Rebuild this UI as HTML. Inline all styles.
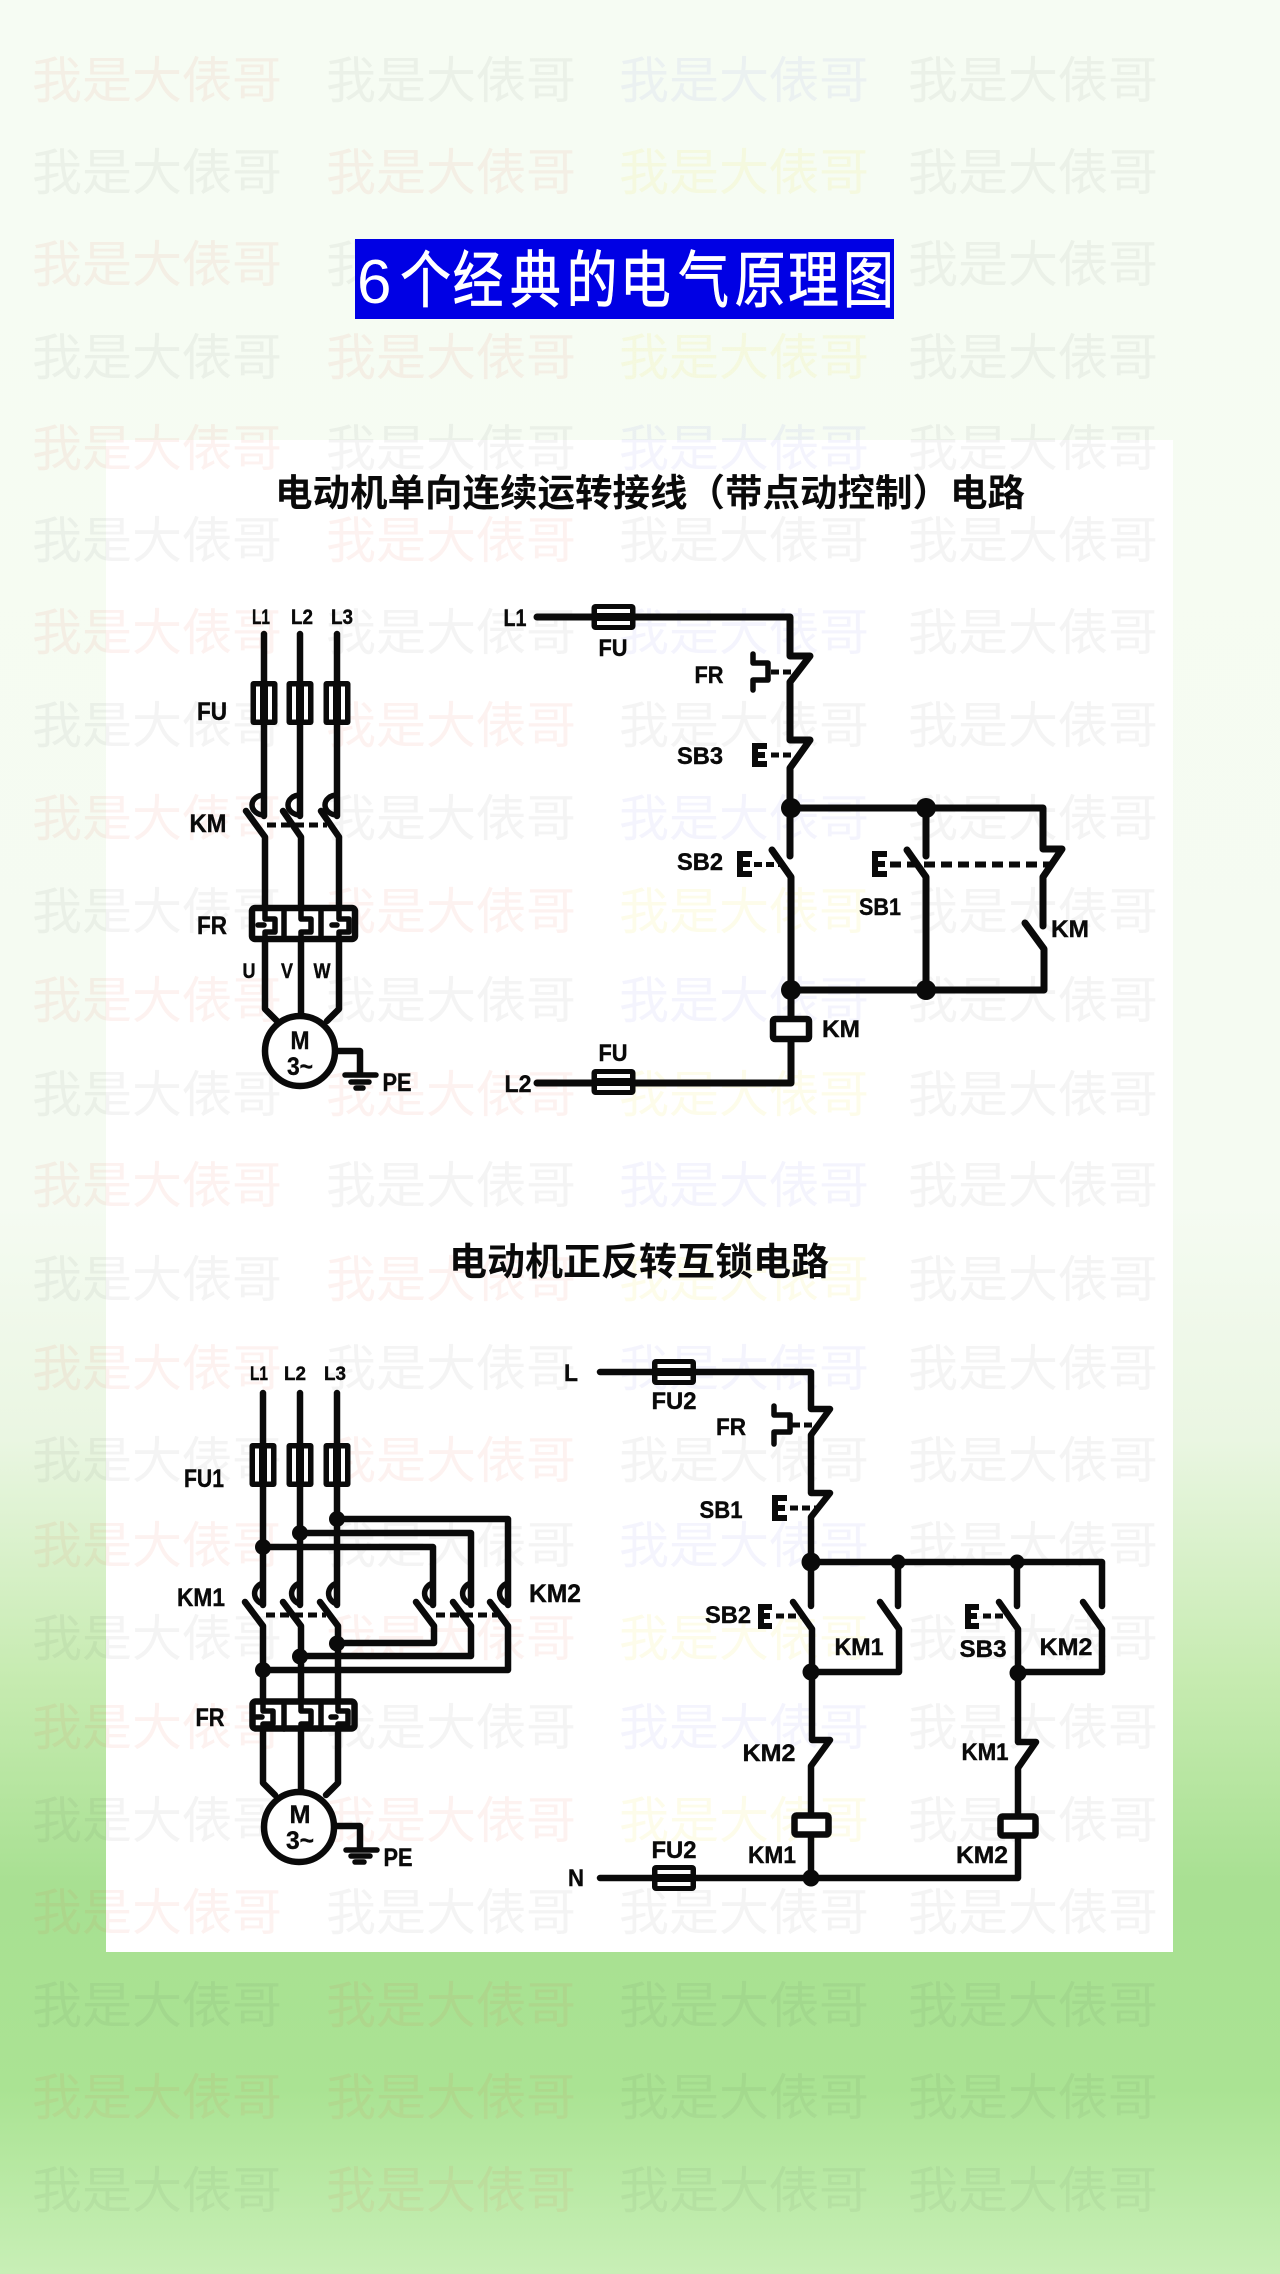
<!DOCTYPE html>
<html lang="zh"><head><meta charset="utf-8"><title>6个经典的电气原理图</title>
<style>
html,body{margin:0;padding:0;background:#fff}
svg{display:block}
.w{font:400 50px "Liberation Sans","Noto Sans CJK SC",sans-serif}
.r{fill:rgba(230,90,70,.08)}.g{fill:rgba(60,60,60,.055)}.b{fill:rgba(60,60,220,.06)}.y{fill:rgba(240,230,60,.11)}
.l{font-family:"Liberation Sans",sans-serif;font-weight:700;fill:#0a0a0a;stroke:#0a0a0a;stroke-width:.4;text-anchor:middle}
.t{font-family:"Liberation Sans","Noto Sans CJK SC",sans-serif;font-weight:700;fill:#0a0a0a;text-anchor:middle}
.p{fill:none;stroke:#0a0a0a;stroke-linecap:round;stroke-linejoin:round}
</style></head><body>
<svg xmlns="http://www.w3.org/2000/svg" width="1280" height="2274" viewBox="0 0 1280 2274">
<defs>
<linearGradient id="bg" x1="0" y1="0" x2="0" y2="1">
<stop offset="0" stop-color="#f6fcf3"/><stop offset=".53" stop-color="#f5fbf2"/><stop offset=".633" stop-color="#eaf6e2"/><stop offset=".739" stop-color="#c6ebb0"/><stop offset=".829" stop-color="#a8e092"/><stop offset=".919" stop-color="#aae393"/><stop offset="1" stop-color="#c8efb6"/>
</linearGradient>
<g id="fv"><rect x="-13.500" y="-22" width="27" height="44" rx="3" fill="#0a0a0a"/><rect x="-8" y="-16.500" width="4" height="33" fill="#fff"/><rect x="4" y="-16.500" width="4" height="33" fill="#fff"/></g>
<g id="fh"><rect x="-22" y="-13" width="44" height="26" rx="4" fill="#0a0a0a"/><rect x="-16.500" y="-8" width="33" height="4" fill="#fff"/><rect x="-16.500" y="4" width="33" height="4" fill="#fff"/></g>
</defs>
<rect width="1280" height="2274" fill="url(#bg)"/>
<rect x="106" y="440" width="1067" height="1512" fill="#fff"/>
<g class="w">
<text x="32" y="98" class="r">我是大俵哥</text><text x="326" y="98" class="g">我是大俵哥</text><text x="619" y="98" class="b">我是大俵哥</text><text x="908" y="98" class="g">我是大俵哥</text>
<text x="32" y="190" class="g">我是大俵哥</text><text x="326" y="190" class="r">我是大俵哥</text><text x="619" y="190" class="y">我是大俵哥</text><text x="908" y="190" class="g">我是大俵哥</text>
<text x="32" y="282" class="r">我是大俵哥</text><text x="326" y="282" class="g">我是大俵哥</text><text x="908" y="282" class="g">我是大俵哥</text>
<text x="32" y="375" class="g">我是大俵哥</text><text x="326" y="375" class="r">我是大俵哥</text><text x="619" y="375" class="y">我是大俵哥</text><text x="908" y="375" class="g">我是大俵哥</text>
<text x="32" y="466" class="r">我是大俵哥</text><text x="326" y="466" class="g">我是大俵哥</text><text x="619" y="466" class="b">我是大俵哥</text><text x="908" y="466" class="g">我是大俵哥</text>
<text x="32" y="558" class="g">我是大俵哥</text><text x="326" y="558" class="r">我是大俵哥</text><text x="619" y="558" class="g">我是大俵哥</text><text x="908" y="558" class="g">我是大俵哥</text>
<text x="32" y="650" class="r">我是大俵哥</text><text x="326" y="650" class="g">我是大俵哥</text><text x="619" y="650" class="b">我是大俵哥</text><text x="908" y="650" class="g">我是大俵哥</text>
<text x="32" y="743" class="g">我是大俵哥</text><text x="326" y="743" class="r">我是大俵哥</text><text x="619" y="743" class="g">我是大俵哥</text><text x="908" y="743" class="g">我是大俵哥</text>
<text x="32" y="836" class="r">我是大俵哥</text><text x="326" y="836" class="g">我是大俵哥</text><text x="619" y="836" class="b">我是大俵哥</text><text x="908" y="836" class="g">我是大俵哥</text>
<text x="32" y="929" class="g">我是大俵哥</text><text x="326" y="929" class="r">我是大俵哥</text><text x="619" y="929" class="y">我是大俵哥</text><text x="908" y="929" class="g">我是大俵哥</text>
<text x="32" y="1018" class="r">我是大俵哥</text><text x="326" y="1018" class="g">我是大俵哥</text><text x="619" y="1018" class="b">我是大俵哥</text><text x="908" y="1018" class="g">我是大俵哥</text>
<text x="32" y="1112" class="g">我是大俵哥</text><text x="326" y="1112" class="r">我是大俵哥</text><text x="619" y="1112" class="y">我是大俵哥</text><text x="908" y="1112" class="g">我是大俵哥</text>
<text x="32" y="1203" class="r">我是大俵哥</text><text x="326" y="1203" class="g">我是大俵哥</text><text x="619" y="1203" class="b">我是大俵哥</text><text x="908" y="1203" class="g">我是大俵哥</text>
<text x="32" y="1297" class="g">我是大俵哥</text><text x="326" y="1297" class="r">我是大俵哥</text><text x="619" y="1297" class="y">我是大俵哥</text><text x="908" y="1297" class="g">我是大俵哥</text>
<text x="32" y="1386" class="r">我是大俵哥</text><text x="326" y="1386" class="g">我是大俵哥</text><text x="619" y="1386" class="b">我是大俵哥</text><text x="908" y="1386" class="g">我是大俵哥</text>
<text x="32" y="1478" class="g">我是大俵哥</text><text x="326" y="1478" class="r">我是大俵哥</text><text x="619" y="1478" class="g">我是大俵哥</text><text x="908" y="1478" class="g">我是大俵哥</text>
<text x="32" y="1563" class="r">我是大俵哥</text><text x="326" y="1563" class="g">我是大俵哥</text><text x="619" y="1563" class="b">我是大俵哥</text><text x="908" y="1563" class="g">我是大俵哥</text>
<text x="32" y="1656" class="g">我是大俵哥</text><text x="326" y="1656" class="r">我是大俵哥</text><text x="619" y="1656" class="y">我是大俵哥</text><text x="908" y="1656" class="g">我是大俵哥</text>
<text x="32" y="1745" class="r">我是大俵哥</text><text x="326" y="1745" class="g">我是大俵哥</text><text x="619" y="1745" class="b">我是大俵哥</text><text x="908" y="1745" class="g">我是大俵哥</text>
<text x="32" y="1838" class="g">我是大俵哥</text><text x="326" y="1838" class="r">我是大俵哥</text><text x="619" y="1838" class="y">我是大俵哥</text><text x="908" y="1838" class="g">我是大俵哥</text>
<text x="32" y="1930" class="r">我是大俵哥</text><text x="326" y="1930" class="g">我是大俵哥</text><text x="619" y="1930" class="g">我是大俵哥</text><text x="908" y="1930" class="g">我是大俵哥</text>
<text x="32" y="2023" class="g">我是大俵哥</text><text x="326" y="2023" class="r">我是大俵哥</text><text x="619" y="2023" class="g">我是大俵哥</text><text x="908" y="2023" class="g">我是大俵哥</text>
<text x="32" y="2115" class="r">我是大俵哥</text><text x="326" y="2115" class="r">我是大俵哥</text><text x="619" y="2115" class="g">我是大俵哥</text><text x="908" y="2115" class="g">我是大俵哥</text>
<text x="32" y="2208" class="g">我是大俵哥</text><text x="326" y="2208" class="r">我是大俵哥</text><text x="619" y="2208" class="g">我是大俵哥</text><text x="908" y="2208" class="g">我是大俵哥</text>
</g>

<!-- title -->
<rect x="355" y="239" width="539" height="80" fill="#0000e4"/>
<text x="357" y="303" font-family="'Liberation Sans',sans-serif" font-size="62" fill="#fff">6</text>
<g transform="scale(.82,1)"><text x="488 552 622 691 756 827 896 961 1028" y="302" font-family="'Liberation Sans','Noto Sans CJK SC',sans-serif" font-size="62" fill="#fff" stroke="#fff" stroke-width=".8">个经典的电气原理图</text></g>
<text class="t" x="650" y="506" font-size="37.5" textLength="750" lengthAdjust="spacingAndGlyphs">电动机单向连续运转接线（带点动控制）电路</text>
<text class="t" x="639" y="1275" font-size="38" textLength="380" lengthAdjust="spacingAndGlyphs">电动机正反转互锁电路</text>

<!-- S1 power circuit -->
<g class="p" stroke-width="6.500">
<path d="M264 634V816M300 634V816M337 634V816"/>
<path d="M246 811L265 837V1009L277 1021M283 811L301 837V1015M321 811L339 837V1009L327 1021"/>
<path stroke-width="5.500" d="M264 795A12 10 0 0 0 264 815M300 795A12 10 0 0 0 300 815M337 795A12 10 0 0 0 337 815"/>
<path stroke-width="5" stroke-linecap="butt" stroke-dasharray="9 5" d="M267 825H327"/>
<rect x="252" y="908" width="103" height="31" rx="3" stroke-width="6.500" fill="#fff"/>
<path stroke-width="5.500" d="M284 908V939M321 908V939"/>
<path stroke-width="5.500" d="M265 908V919H275V932H265V939M258 925H264M301 908V919H311V932H301V939M339 908V919H349V932H339V939M332 925H337"/>
<circle cx="300" cy="1051" r="35" fill="#fff"/>
<path d="M336 1051H360V1074"/>
<path stroke-width="5.500" d="M345 1075H376M351 1082H369M356 1088H363"/>
</g>
<use href="#fv" x="264" y="703"/><use href="#fv" x="300" y="703"/><use href="#fv" x="337" y="703"/>
<g font-size="21">
<text class="l" x="261" y="624" textLength="18" lengthAdjust="spacingAndGlyphs">L1</text>
<text class="l" x="302" y="624" textLength="22" lengthAdjust="spacingAndGlyphs">L2</text>
<text class="l" x="342" y="624" textLength="22" lengthAdjust="spacingAndGlyphs">L3</text>
<text class="l" x="249" y="978" textLength="13" lengthAdjust="spacingAndGlyphs">U</text>
<text class="l" x="287" y="978" textLength="12" lengthAdjust="spacingAndGlyphs">V</text>
<text class="l" x="322" y="978" textLength="17" lengthAdjust="spacingAndGlyphs">W</text>
</g>
<g font-size="25">
<text class="l" x="212" y="720" textLength="30" lengthAdjust="spacingAndGlyphs">FU</text>
<text class="l" x="208" y="832" textLength="37" lengthAdjust="spacingAndGlyphs">KM</text>
<text class="l" x="212" y="934" textLength="30" lengthAdjust="spacingAndGlyphs">FR</text>
<text class="l" x="300" y="1049" textLength="19" lengthAdjust="spacingAndGlyphs">M</text>
<text class="l" x="300" y="1075" textLength="26" lengthAdjust="spacingAndGlyphs">3~</text>
<text class="l" x="397" y="1091" textLength="29" lengthAdjust="spacingAndGlyphs">PE</text>
</g>

<!-- S1 control circuit -->
<g class="p" stroke-width="7">
<path d="M537 617H790V656H810L790 682V740H810L790 768V856"/>
<path d="M791 808H1043V849H1062L1043 877V926"/>
<path d="M926 808V856"/>
<path d="M772 850L791 877V1019"/>
<path d="M907 850L926 877V990"/>
<path d="M1025 923L1044 949V990H791"/>
<path d="M791 1040V1083H537"/>
<rect x="773" y="1019" width="36" height="20" rx="2" stroke-width="6.500" fill="#fff"/>
<path stroke-width="5.500" d="M753 654V663H768V680H753V690"/>
<path stroke-width="5" stroke-linecap="butt" stroke-dasharray="8 4" d="M771 672H794M771 755H794M754 864.5H782"/>
<path stroke-width="6" stroke-linecap="butt" stroke-dasharray="11 6" d="M890 864.5H1050"/>
<path stroke-width="6" stroke-linecap="butt" stroke-linejoin="miter" d="M767 746H755V764H767M755 755H765M752 854H740V874H752M740 864H750M887 854H875V874H887M875 864H885"/>
</g>
<g fill="#0a0a0a"><circle cx="791" cy="808" r="10"/><circle cx="926" cy="808" r="10"/><circle cx="791" cy="990" r="10"/><circle cx="926" cy="990" r="10"/></g>
<use href="#fh" x="613.5" y="617"/><use href="#fh" x="613.5" y="1082"/>
<g font-size="24">
<text class="l" x="515" y="626" textLength="23" lengthAdjust="spacingAndGlyphs">L1</text>
<text class="l" x="613" y="656" textLength="29" lengthAdjust="spacingAndGlyphs">FU</text>
<text class="l" x="709" y="683" textLength="29" lengthAdjust="spacingAndGlyphs">FR</text>
<text class="l" x="700" y="764" textLength="46" lengthAdjust="spacingAndGlyphs">SB3</text>
<text class="l" x="700" y="870" textLength="46" lengthAdjust="spacingAndGlyphs">SB2</text>
<text class="l" x="880" y="915" textLength="42" lengthAdjust="spacingAndGlyphs">SB1</text>
<text class="l" x="1070" y="937" textLength="38" lengthAdjust="spacingAndGlyphs">KM</text>
<text class="l" x="841" y="1037" textLength="38" lengthAdjust="spacingAndGlyphs">KM</text>
<text class="l" x="613" y="1061" textLength="29" lengthAdjust="spacingAndGlyphs">FU</text>
<text class="l" x="518" y="1092" textLength="27" lengthAdjust="spacingAndGlyphs">L2</text>
</g>

<!-- S2 power circuit -->
<g class="p" stroke-width="6.500">
<path d="M263 1393V1605M300 1393V1605M337 1393V1605"/>
<path d="M337 1519H508V1605M300 1533H471V1605M263 1547H433V1605"/>
<path d="M245 1602L263 1626V1783L275 1795M283 1602L301 1626V1790M320 1602L338 1626V1783L326 1795"/>
<path d="M416 1602L434 1626V1643H337M453 1602L471 1626V1656H300M490 1602L508 1626V1670H263"/>
<path stroke-width="5.500" d="M263 1583A12 11 0 0 0 263 1604M300 1583A12 11 0 0 0 300 1604M337 1583A12 11 0 0 0 337 1604M433 1583A12 11 0 0 0 433 1604M471 1583A12 11 0 0 0 471 1604M508 1583A12 11 0 0 0 508 1604"/>
<path stroke-width="5" stroke-linecap="butt" stroke-dasharray="9 5" d="M266 1615H326M436 1615H497"/>
<rect x="252.5" y="1701.500" width="102" height="27" rx="3" fill="#fff"/>
<path stroke-width="5.500" d="M284 1702V1729M321 1702V1729"/>
<path stroke-width="5.500" d="M263 1702V1711H273V1724H263V1729M256 1717H262M301 1702V1711H311V1724H301V1729M338 1702V1711H348V1724H338V1729M331 1717H336"/>
<circle cx="299" cy="1827" r="35" fill="#fff"/>
<path d="M335 1826H360V1849"/>
<path stroke-width="5.500" d="M346 1850H377M351 1856H370M355 1862H364"/>
</g>
<g fill="#0a0a0a"><circle cx="337" cy="1519" r="8"/><circle cx="300" cy="1533" r="8"/><circle cx="263" cy="1547" r="8"/><circle cx="337" cy="1643.500" r="8"/><circle cx="300" cy="1656.500" r="8"/><circle cx="263" cy="1670" r="8"/></g>
<use href="#fv" x="263" y="1465"/><use href="#fv" x="300" y="1465"/><use href="#fv" x="337" y="1465"/>
<g font-size="19">
<text class="l" x="259" y="1380" textLength="18" lengthAdjust="spacingAndGlyphs">L1</text>
<text class="l" x="295" y="1380" textLength="22" lengthAdjust="spacingAndGlyphs">L2</text>
<text class="l" x="335" y="1380" textLength="22" lengthAdjust="spacingAndGlyphs">L3</text>
</g>
<g font-size="25">
<text class="l" x="204" y="1487" textLength="40" lengthAdjust="spacingAndGlyphs">FU1</text>
<text class="l" x="201" y="1606" textLength="48" lengthAdjust="spacingAndGlyphs">KM1</text>
<text class="l" x="555" y="1602" textLength="52" lengthAdjust="spacingAndGlyphs">KM2</text>
<text class="l" x="210" y="1726" textLength="29" lengthAdjust="spacingAndGlyphs">FR</text>
<text class="l" x="300" y="1823" textLength="21" lengthAdjust="spacingAndGlyphs">M</text>
<text class="l" x="300" y="1849" textLength="28" lengthAdjust="spacingAndGlyphs">3~</text>
<text class="l" x="398" y="1866" textLength="29" lengthAdjust="spacingAndGlyphs">PE</text>
</g>

<!-- S2 control circuit -->
<g class="p" stroke-width="6.500">
<path d="M600 1372H811V1409H830L811 1435V1493H830L811 1517V1606"/>
<path d="M811 1562H1102V1606M898 1562V1606M1017 1562V1606"/>
<path d="M793 1602L812 1629V1740H830L811 1766V1815"/>
<path d="M880 1602L899 1629V1672H811"/>
<path d="M999 1602L1018 1629V1742H1036L1018 1768V1816"/>
<path d="M1083 1602L1102 1629V1672H1018"/>
<path d="M811 1836V1878M1018 1837V1878H600"/>
<rect x="794.500" y="1815.500" width="34" height="19" rx="2" fill="#fff"/>
<rect x="1000.500" y="1816.500" width="35" height="19" rx="2" fill="#fff"/>
<path stroke-width="5.500" d="M774 1406V1415H790V1432H774V1444"/>
<path stroke-width="5" stroke-linecap="butt" stroke-dasharray="8 4" d="M792 1425H816M790 1508H816M776 1616H802M983 1616H1009"/>
<path stroke-width="6" stroke-linecap="butt" stroke-linejoin="miter" d="M787 1498H775V1518H787M775 1508H785M772 1607H761V1626H772M761 1616H770M979 1607H968V1626H979M968 1616H977"/>
</g>
<g fill="#0a0a0a"><circle cx="811" cy="1562" r="9.500"/><circle cx="898" cy="1562" r="7.500"/><circle cx="1017" cy="1562" r="7.500"/><circle cx="811" cy="1672" r="8.500"/><circle cx="1018" cy="1673" r="8.500"/><circle cx="811" cy="1878" r="8.500"/></g>
<use href="#fh" x="674" y="1372"/><use href="#fh" x="674" y="1878"/>
<g font-size="24">
<text class="l" x="571" y="1381" textLength="14" lengthAdjust="spacingAndGlyphs">L</text>
<text class="l" x="674" y="1409" textLength="45" lengthAdjust="spacingAndGlyphs">FU2</text>
<text class="l" x="731" y="1435" textLength="30" lengthAdjust="spacingAndGlyphs">FR</text>
<text class="l" x="721" y="1518" textLength="43" lengthAdjust="spacingAndGlyphs">SB1</text>
<text class="l" x="728" y="1623" textLength="46" lengthAdjust="spacingAndGlyphs">SB2</text>
<text class="l" x="859" y="1655" textLength="49" lengthAdjust="spacingAndGlyphs">KM1</text>
<text class="l" x="983" y="1657" textLength="47" lengthAdjust="spacingAndGlyphs">SB3</text>
<text class="l" x="1066" y="1655" textLength="53" lengthAdjust="spacingAndGlyphs">KM2</text>
<text class="l" x="769" y="1761" textLength="53" lengthAdjust="spacingAndGlyphs">KM2</text>
<text class="l" x="985" y="1760" textLength="47" lengthAdjust="spacingAndGlyphs">KM1</text>
<text class="l" x="772" y="1863" textLength="48" lengthAdjust="spacingAndGlyphs">KM1</text>
<text class="l" x="982" y="1863" textLength="52" lengthAdjust="spacingAndGlyphs">KM2</text>
<text class="l" x="674" y="1858" textLength="45" lengthAdjust="spacingAndGlyphs">FU2</text>
<text class="l" x="576" y="1886" textLength="16" lengthAdjust="spacingAndGlyphs">N</text>
</g>
</svg>
</body></html>
